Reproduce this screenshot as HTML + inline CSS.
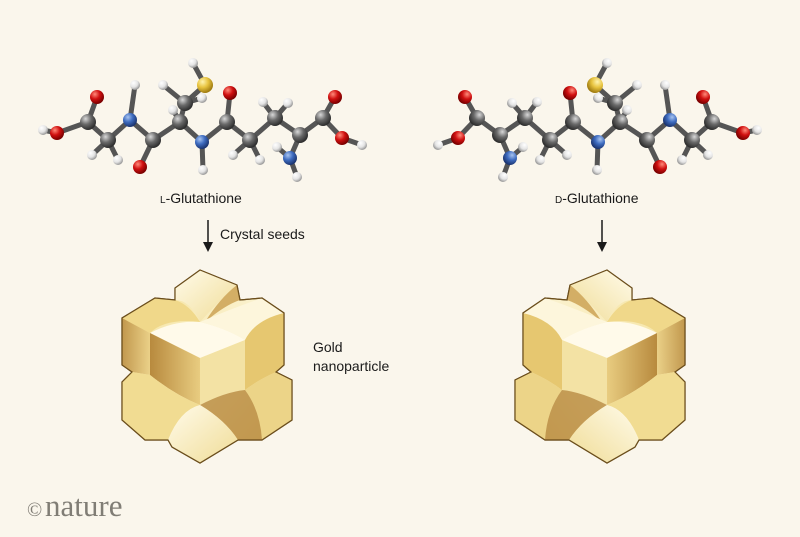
<!DOCTYPE html>
<html><head><meta charset="utf-8"><style>
html,body{margin:0;padding:0;background:#faf6ec;}
svg{display:block}
text{font-family:"Liberation Sans",sans-serif;fill:#1a1a1a}
</style></head><body>
<svg width="800" height="537" viewBox="0 0 800 537" xmlns="http://www.w3.org/2000/svg">
<defs>
<radialGradient id="gC" cx="35%" cy="30%" r="70%"><stop offset="0" stop-color="#d8d8d8"/><stop offset="0.5" stop-color="#6a6a6a"/><stop offset="1" stop-color="#2e2e2e"/></radialGradient>
<radialGradient id="gO" cx="35%" cy="30%" r="70%"><stop offset="0" stop-color="#ff8a7a"/><stop offset="0.5" stop-color="#d01010"/><stop offset="1" stop-color="#7a0000"/></radialGradient>
<radialGradient id="gN" cx="35%" cy="30%" r="70%"><stop offset="0" stop-color="#a8c4f0"/><stop offset="0.5" stop-color="#3e6cc0"/><stop offset="1" stop-color="#1c3570"/></radialGradient>
<radialGradient id="gH" cx="35%" cy="30%" r="70%"><stop offset="0" stop-color="#ffffff"/><stop offset="0.6" stop-color="#e4e4e4"/><stop offset="1" stop-color="#9a9a9a"/></radialGradient>
<radialGradient id="gS" cx="35%" cy="30%" r="70%"><stop offset="0" stop-color="#fff4b0"/><stop offset="0.5" stop-color="#e8c440"/><stop offset="1" stop-color="#a07c10"/></radialGradient>
<linearGradient id="gold" x1="0" y1="0" x2="1" y2="1"><stop offset="0" stop-color="#f2dc8a"/><stop offset="0.5" stop-color="#fbf3d2"/><stop offset="1" stop-color="#e3c470"/></linearGradient>
<linearGradient id="goldD" x1="0" y1="0" x2="1" y2="0"><stop offset="0" stop-color="#b88a3e"/><stop offset="1" stop-color="#e8cc80"/></linearGradient>
<linearGradient id="goldL" x1="0" y1="0" x2="1" y2="1"><stop offset="0" stop-color="#fffbea"/><stop offset="1" stop-color="#f0dc96"/></linearGradient>

<g id="mol">
 <g stroke-linecap="round">
  <g stroke="#555" stroke-width="5">
   <line x1="43" y1="130" x2="57" y2="133"/>
   <line x1="57" y1="133" x2="88" y2="122"/>
   <line x1="88" y1="122" x2="97" y2="97"/>
   <line x1="88" y1="122" x2="108" y2="140"/>
   <line x1="108" y1="140" x2="92" y2="155"/>
   <line x1="108" y1="140" x2="118" y2="160"/>
   <line x1="108" y1="140" x2="130" y2="120"/>
   <line x1="130" y1="120" x2="135" y2="85"/>
   <line x1="130" y1="120" x2="153" y2="140"/>
   <line x1="153" y1="140" x2="140" y2="167"/>
   <line x1="153" y1="140" x2="180" y2="122"/>
   <line x1="180" y1="122" x2="173" y2="110"/>
   <line x1="180" y1="122" x2="185" y2="103"/>
   <line x1="185" y1="103" x2="163" y2="85"/>
   <line x1="185" y1="103" x2="202" y2="98"/>
   <line x1="185" y1="103" x2="205" y2="85"/>
   <line x1="205" y1="85" x2="193" y2="63"/>
   <line x1="180" y1="122" x2="202" y2="142"/>
   <line x1="202" y1="142" x2="203" y2="170"/>
   <line x1="202" y1="142" x2="227" y2="122"/>
   <line x1="227" y1="122" x2="230" y2="93"/>
   <line x1="227" y1="122" x2="250" y2="140"/>
   <line x1="250" y1="140" x2="233" y2="155"/>
   <line x1="250" y1="140" x2="260" y2="160"/>
   <line x1="250" y1="140" x2="275" y2="118"/>
   <line x1="275" y1="118" x2="263" y2="102"/>
   <line x1="275" y1="118" x2="288" y2="103"/>
   <line x1="275" y1="118" x2="300" y2="135"/>
   <line x1="300" y1="135" x2="290" y2="158"/>
   <line x1="290" y1="158" x2="277" y2="147"/>
   <line x1="290" y1="158" x2="297" y2="177"/>
   <line x1="300" y1="135" x2="323" y2="118"/>
   <line x1="323" y1="118" x2="335" y2="97"/>
   <line x1="323" y1="118" x2="342" y2="138"/>
   <line x1="342" y1="138" x2="362" y2="145"/>
  </g>
 </g>
 <g fill="url(#gH)">
  <circle cx="43" cy="130" r="5"/><circle cx="92" cy="155" r="5"/><circle cx="118" cy="160" r="5"/>
  <circle cx="135" cy="85" r="5"/><circle cx="173" cy="110" r="5"/><circle cx="163" cy="85" r="5"/>
  <circle cx="202" cy="98" r="5"/><circle cx="193" cy="63" r="5"/><circle cx="203" cy="170" r="5"/>
  <circle cx="233" cy="155" r="5"/><circle cx="260" cy="160" r="5"/><circle cx="263" cy="102" r="5"/>
  <circle cx="288" cy="103" r="5"/><circle cx="277" cy="147" r="5"/><circle cx="297" cy="177" r="5"/>
  <circle cx="362" cy="145" r="5"/>
 </g>
 <g fill="url(#gO)">
  <circle cx="57" cy="133" r="7"/><circle cx="97" cy="97" r="7"/><circle cx="140" cy="167" r="7"/>
  <circle cx="230" cy="93" r="7"/><circle cx="335" cy="97" r="7"/><circle cx="342" cy="138" r="7"/>
 </g>
 <g fill="url(#gC)">
  <circle cx="88" cy="122" r="8"/><circle cx="108" cy="140" r="8"/><circle cx="153" cy="140" r="8"/>
  <circle cx="180" cy="122" r="8"/><circle cx="185" cy="103" r="8"/><circle cx="227" cy="122" r="8"/>
  <circle cx="250" cy="140" r="8"/><circle cx="275" cy="118" r="8"/><circle cx="300" cy="135" r="8"/>
  <circle cx="323" cy="118" r="8"/>
 </g>
 <g fill="url(#gN)">
  <circle cx="130" cy="120" r="7"/><circle cx="202" cy="142" r="7"/><circle cx="290" cy="158" r="7"/>
 </g>
 <circle cx="205" cy="85" r="8" fill="url(#gS)"/>
</g>

<g id="np">
 <polygon points="200,270 237,285 240,300 262,298 284,313 284,365 276,372 292,380 292,420 262,440 238,440 200,463 172,447 168,440 145,440 122,420 122,382 132,372 122,365 122,318 155,298 175,300 175,288" fill="url(#gold)" stroke="#6b4e1c" stroke-width="1.2"/>
 <path d="M175,288 L200,270 L237,285 Q220,300 200,322 Q190,300 175,300 Z" fill="url(#goldL)"/>
 <path d="M237,285 L240,300 Q225,305 205,322 Q220,298 237,285Z" fill="#c99e4e" opacity="0.8"/>
 <path d="M122,318 L155,298 L175,300 Q190,305 200,322 Q165,318 150,333 Q135,325 122,318Z" fill="#f0d88a"/>
 <path d="M122,318 Q135,325 150,333 L150,375 L132,372 L122,365Z" fill="url(#goldD)" opacity="0.85"/>
 <path d="M200,322 Q228,310 262,298 L284,313 Q255,320 245,340 Q225,328 200,322Z" fill="#fdf6dc"/>
 <path d="M150,333 Q175,320 200,322 Q225,328 245,340 L200,358 Z" fill="#fffaea"/>
 <path d="M150,333 L200,358 L200,405 Q175,395 150,375Z" fill="url(#goldD)"/>
 <path d="M200,358 L245,340 L245,390 Q225,392 200,405Z" fill="#f3e2a4"/>
 <path d="M245,340 Q255,320 284,313 L284,365 L276,372 Q258,380 245,390Z" fill="#e6c770"/>
 <path d="M245,390 Q258,380 276,372 L292,380 L292,420 L262,440 Q260,410 245,390Z" fill="#ecd488"/>
 <path d="M200,405 Q225,392 245,390 Q260,410 262,440 L238,440 Q225,420 200,405Z" fill="#b88a3e" opacity="0.8"/>
 <path d="M150,375 Q175,395 200,405 Q180,410 168,440 L145,440 L122,420 L122,382 L132,372Z" fill="#f1dc92"/>
 <path d="M200,405 Q225,420 238,440 L200,463 L172,447 L168,440 Q180,410 200,405Z" fill="url(#goldL)"/>
 <polygon points="200,270 237,285 240,300 262,298 284,313 284,365 276,372 292,380 292,420 262,440 238,440 200,463 172,447 168,440 145,440 122,420 122,382 132,372 122,365 122,318 155,298 175,300 175,288" fill="none" stroke="#6b4e1c" stroke-width="1.2"/>
</g>
</defs>

<rect width="800" height="537" fill="#faf6ec"/>
<use href="#mol"/>
<use href="#mol" transform="translate(800,0) scale(-1,1)"/>
<use href="#np"/>
<use href="#np" transform="translate(807,0) scale(-1,1)"/>

<text x="160" y="203" font-size="14"><tspan font-size="10">L</tspan>-Glutathione</text>
<text x="555" y="203" font-size="14"><tspan font-size="10">D</tspan>-Glutathione</text>
<text x="220" y="239" font-size="14">Crystal seeds</text>
<text x="313" y="352" font-size="14">Gold</text>
<text x="313" y="371" font-size="14">nanoparticle</text>

<g stroke="#1a1a1a" stroke-width="1.5"><line x1="208" y1="220" x2="208" y2="244"/><line x1="602" y1="220" x2="602" y2="244"/></g>
<polygon points="203,242 213,242 208,252" fill="#1a1a1a"/>
<polygon points="597,242 607,242 602,252" fill="#1a1a1a"/>

<text x="27" y="516" style="font-family:'Liberation Serif',serif;font-size:20px;fill:#807d75">©</text>
<text x="45" y="516" style="font-family:'Liberation Serif',serif;font-size:31px;fill:#807d75">nature</text>
</svg>
</body></html>
